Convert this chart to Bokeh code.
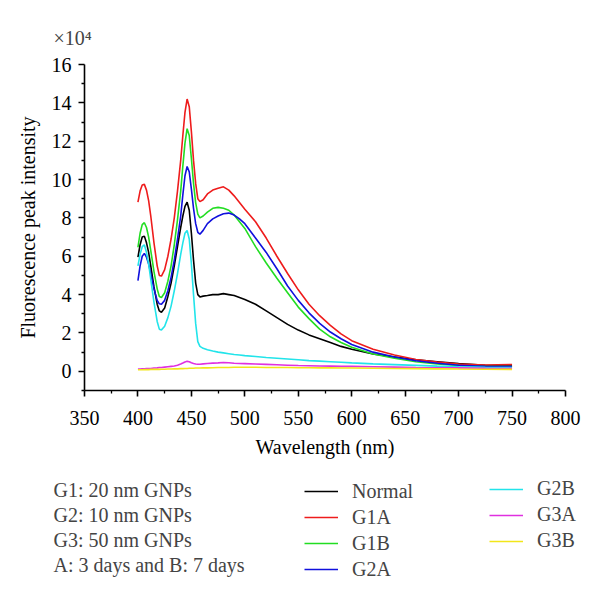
from bokeh.plotting import figure
from bokeh.models import Range1d, FixedTicker, Legend, LegendItem, Label
from bokeh.layouts import column
from bokeh.embed import file_html
from bokeh.resources import INLINE

# ---------------- data (intensity in units of 1e4) ----------------
wavelength = [400, 402, 404, 406, 408,
              410, 412, 415, 418, 420,
              422, 425, 428, 431, 434,
              437, 440, 442, 444, 446,
              448, 450, 452, 454, 456,
              458, 461, 465, 470, 475,
              480, 485, 490, 495, 500,
              510, 520, 530, 540, 550,
              560, 570, 580, 590, 600,
              620, 640, 660, 680, 700,
              725, 750]

normal = [5.95, 6.6, 7.0, 7.05, 6.7,
          6.2, 5.5, 4.4, 3.5, 3.15,
          3.08, 3.3, 3.9, 4.6, 5.5,
          6.5, 7.5, 8.1, 8.6, 8.82,
          8.4, 7.2, 5.8, 4.6, 4.0,
          3.88, 3.92, 3.95, 4.0, 4.0,
          4.05, 4.0, 3.95, 3.85, 3.75,
          3.5, 3.15, 2.8, 2.45, 2.15,
          1.9, 1.7, 1.5, 1.3, 1.15,
          0.9, 0.75, 0.6, 0.5, 0.4,
          0.32, 0.3]
g1a = [8.82, 9.4, 9.72, 9.75, 9.45,
       8.9, 8.1, 6.7, 5.5, 5.0,
       4.97, 5.3, 6.0, 6.9, 8.0,
       9.4, 11.0, 12.3, 13.5, 14.2,
       13.8, 12.5, 11.0, 9.8, 9.0,
       8.85, 8.95, 9.25, 9.45, 9.55,
       9.62, 9.45, 9.15, 8.8, 8.45,
       7.8, 6.95, 6.0, 5.1, 4.25,
       3.5, 2.9, 2.4, 1.95, 1.6,
       1.15, 0.85, 0.62, 0.48, 0.38,
       0.33, 0.35]
g1b = [6.47, 7.2, 7.65, 7.75, 7.5,
       7.0, 6.3, 5.2, 4.3, 3.9,
       3.85, 4.1, 4.7, 5.5, 6.6,
       7.9, 9.4, 10.7, 11.9, 12.65,
       12.3, 11.1, 9.8, 8.8, 8.2,
       8.0, 8.1, 8.3, 8.5, 8.55,
       8.5, 8.4, 8.15, 7.8, 7.45,
       6.5, 5.65, 4.85, 4.1, 3.35,
       2.75, 2.2, 1.8, 1.5, 1.25,
       0.9, 0.68, 0.5, 0.38, 0.3,
       0.25, 0.25]
g2a = [4.73, 5.5, 6.0, 6.15, 5.95,
       5.6, 5.1, 4.3, 3.7, 3.52,
       3.5, 3.7, 4.2, 4.9, 5.8,
       6.9, 8.1, 9.2, 10.2, 10.68,
       10.4, 9.5, 8.5, 7.7, 7.25,
       7.15, 7.35, 7.7, 7.95, 8.1,
       8.22, 8.25, 8.15, 7.95, 7.7,
       6.95, 6.2, 5.35, 4.45, 3.7,
       3.05, 2.5, 2.05, 1.7, 1.4,
       1.0, 0.75, 0.55, 0.42, 0.32,
       0.26, 0.25]
g2b = [5.5, 6.1, 6.5, 6.6, 6.2,
       5.6, 4.8, 3.6, 2.6, 2.2,
       2.16, 2.35, 2.8, 3.4, 4.2,
       5.1, 6.1, 6.7, 7.2, 7.34,
       6.9, 5.6, 4.0, 2.5, 1.55,
       1.3, 1.2, 1.13, 1.06, 1.0,
       0.96, 0.92, 0.88, 0.85, 0.82,
       0.77, 0.72, 0.68, 0.64, 0.6,
       0.56, 0.53, 0.5, 0.47, 0.44,
       0.39, 0.35, 0.31, 0.27, 0.24,
       0.21, 0.2]
g3a = [0.12, 0.12, 0.13, 0.13, 0.14,
       0.15, 0.15, 0.17, 0.18, 0.2,
       0.2, 0.22, 0.24, 0.26, 0.28,
       0.32, 0.38, 0.43, 0.49, 0.52,
       0.5, 0.45, 0.41, 0.38, 0.37,
       0.37, 0.39, 0.41, 0.43, 0.44,
       0.46, 0.45, 0.42, 0.41, 0.4,
       0.38, 0.36, 0.34, 0.32, 0.3,
       0.29, 0.28, 0.27, 0.26, 0.26,
       0.24, 0.22, 0.2, 0.19, 0.18,
       0.16, 0.15]
g3b = [0.08, 0.08, 0.08, 0.09, 0.09,
       0.09, 0.1, 0.1, 0.1, 0.1,
       0.11, 0.11, 0.12, 0.12, 0.13,
       0.13, 0.14, 0.14, 0.15, 0.15,
       0.16, 0.16, 0.16, 0.17, 0.17,
       0.17, 0.18, 0.18, 0.19, 0.2,
       0.2, 0.2, 0.21, 0.21, 0.21,
       0.21, 0.2, 0.2, 0.2, 0.19,
       0.19, 0.18, 0.18, 0.17, 0.17,
       0.16, 0.15, 0.14, 0.13, 0.12,
       0.11, 0.1]

series_names = ["Normal", "G1A", "G1B", "G2A", "G2B", "G3A", "G3B"]
series_values = [normal, g1a, g1b, g2a, g2b, g3a, g3b]
series_colors = ["#000000", "#ee1c1c", "#22dd22", "#1010dd", "#22e4ea", "#e030e0", "#f2e61a"]

x_ticks = [350, 400, 450, 500, 550, 600, 650, 700, 750, 800]
x_minor = [375, 425, 475, 525, 575, 625, 675, 725, 775]
y_ticks = [0, 2, 4, 6, 8, 10, 12, 14, 16]
y_minor = [-1, 1, 3, 5, 7, 9, 11, 13, 15]

note_lines = ["G1: 20 nm GNPs", "G2: 10 nm GNPs", "G3: 50 nm GNPs", "A: 3 days and B: 7 days"]

FONT = "Liberation Serif"
FS = "20px"

# ---------------- main plot ----------------
p = figure(width=600, height=470, output_backend="svg", toolbar_location=None,
           x_range=Range1d(350, 800), y_range=Range1d(-1, 16),
           min_border_left=84, min_border_right=35, min_border_top=64, min_border_bottom=80)
p.frame_align = False
p.outline_line_color = None
p.grid.visible = False

p.title.text = "×10⁴"
p.title.text_font = FONT
p.title.text_font_size = FS
p.title.text_font_style = "normal"
p.title.align = "left"
p.title.offset = -31
p.title.standoff = 32

renderers = []
for name, vals, col in zip(series_names, series_values, series_colors):
    r = p.line(wavelength, vals, line_color=col, line_width=1.6)
    renderers.append(r)

for ax in (p.xaxis[0], p.yaxis[0]):
    ax.axis_line_width = 1.6
    ax.axis_line_color = "black"
    ax.major_tick_line_width = 1.6
    ax.minor_tick_line_width = 1.3
    ax.major_tick_out = 6
    ax.major_tick_in = 0
    ax.minor_tick_out = 3
    ax.minor_tick_in = 0
    ax.major_label_text_font = FONT
    ax.major_label_text_font_size = FS
    ax.major_label_text_color = "black"
    ax.axis_label_text_font = FONT
    ax.axis_label_text_font_size = FS
    ax.axis_label_text_font_style = "normal"
    ax.axis_label_text_color = "black"

p.xaxis[0].ticker = FixedTicker(ticks=x_ticks, minor_ticks=x_minor)
p.yaxis[0].ticker = FixedTicker(ticks=y_ticks, minor_ticks=y_minor)
p.xaxis[0].axis_label = "Wavelength (nm)"
p.yaxis[0].axis_label = "Fluorescence peak intensity"
p.xaxis[0].major_label_standoff = 14
p.xaxis[0].axis_label_standoff = 8
p.yaxis[0].major_label_standoff = 7
p.yaxis[0].axis_label_standoff = 10

# ---------------- legend / notes panel ----------------
p2 = figure(width=600, height=125, output_backend="svg", toolbar_location=None,
            x_range=Range1d(0, 1), y_range=Range1d(0, 1), min_border=0)
p2.frame_align = False
p2.outline_line_color = None
p2.axis.visible = False
p2.grid.visible = False

for i, t in enumerate(note_lines):
    p2.add_layout(Label(x=53, y=106 - 25.2 * i, x_units="screen", y_units="screen", text=t,
                        text_font=FONT, text_font_size=FS, text_baseline="middle"))

# hidden copies of the series, used only to supply legend glyphs
legend_renderers = [p2.line(wavelength, vals, line_color=c, line_width=1.6, visible=False)
                    for vals, c in zip(series_values, series_colors)]

def make_legend(idx, loc):
    items = [LegendItem(label=series_names[i], renderers=[legend_renderers[i]]) for i in idx]
    return Legend(items=items, location=loc, orientation="vertical",
                  label_text_font=FONT, label_text_font_size=FS,
                  glyph_width=34, glyph_height=22, label_height=22, label_standoff=14,
                  spacing=3, padding=0, margin=0, border_line_color=None,
                  background_fill_alpha=0, click_policy="none")

p2.add_layout(make_legend([0, 1, 2, 3], (304, 14.5)))
p2.add_layout(make_legend([4, 5, 6], (489, 43)))

layout = column(p, p2, spacing=0)
open("out.html", "w").write(file_html(layout, INLINE))
